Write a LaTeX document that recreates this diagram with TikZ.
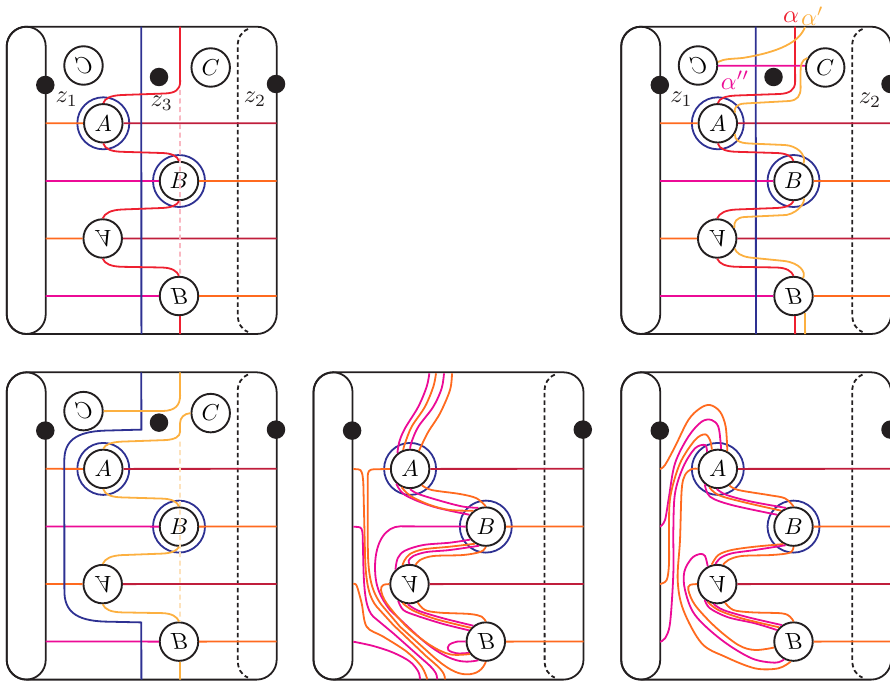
\documentclass[tikz,border=0pt]{standalone}
\definecolor{cOr}{HTML}{FF6A1F}
\definecolor{cMg}{HTML}{EC0B96}
\definecolor{cRd}{HTML}{EE2030}
\definecolor{cYe}{HTML}{FCB040}
\definecolor{cBl}{HTML}{2E3192}
\definecolor{cDr}{HTML}{C01E3C}
\definecolor{cKk}{HTML}{231F20}
\definecolor{cPk}{HTML}{F9B8C2}
\definecolor{cLy}{HTML}{FDE2BC}
\tikzset{
  fr/.style={draw=cKk,line width=1.8pt},
  circ/.style={circle,draw=cKk,line width=1.9pt,minimum size=38.5pt,inner sep=0pt},
  ring/.style={circle,draw=cBl,line width=1.8pt,minimum size=52pt,inner sep=0pt},
  dotn/.style={circle,fill=cKk,minimum size=18.5pt,inner sep=0pt},
  lab/.style={inner sep=0pt,text=cKk},
  ol/.style={cOr,line width=1.8pt},
  ml/.style={cMg,line width=1.8pt},
  rl/.style={cRd,line width=1.8pt},
  yl/.style={cYe,line width=1.8pt},
  bl/.style={cBl,line width=1.8pt},
  dl/.style={cDr,line width=1.8pt},
  zone/.style={shift={(#1)},x=.33333pt,y=-.33333pt},
}
\newcommand\LT[1]{\scalebox{2.3}{$#1$}}
\newcommand\LF[1]{\scalebox{2.3}[-2.3]{$#1$}}
\newcommand\LM[1]{\scalebox{-2.3}[2.3]{$#1$}}
\newcommand\LB[1]{\scalebox{2.45}{$#1$}}
\newcommand\sm[2]{\draw[#1] plot[smooth,tension=.55] coordinates {#2};}
\newcommand\panelbase[1]{%
  \fill[cKk,even odd rule,rounded corners=20.9pt] (5.8,25.8) rectangle (277.6,334.9)
     [rounded corners=19.1pt] (7.6,27.6) rectangle (275.8,333.1);
  \fill[cKk,even odd rule,rounded corners=20.4pt] (5.8,25.8) rectangle (46.6,334.9)
     [rounded corners=18.6pt] (7.6,27.6) rectangle (44.8,333.1);
  \draw[fr,dash pattern=on 4.5pt off 3pt] (248,29) .. controls (241,32) and (237.7,38) .. (237.7,46) -- (237.8,315) .. controls (237.8,323) and (241,329) .. (248,332);
  \node[dotn] (#1dl) at (45.3,85) {};
  \node[dotn] (#1dr) at (276,84) {};
  \node[circ] (#1A) at (103.3,123.3) {\LT{A}};
  \node[circ] (#1B) at (179,181) {\LT{B}};
  \node[circ] (#1a) at (102.7,238.5) {\LF{A}};
  \node[circ] (#1b) at (179,296) {\LF{B}};
  \node[ring] (#1RA) at (103.3,123.3) {};
  \node[ring] (#1RB) at (179,181) {};
  \draw[dl] (#1A.east) -- (276.7,123.2);
  \draw[ol] (#1B.east) -- (276.7,180.9);
  \draw[dl] (#1a.east) -- (276.7,238.4);
  \draw[ol] (#1b.east) -- (276.7,295.9);
}
\newcommand\leftlines[1]{%
  \node[dotn] (#1dm) at (159,77) {};
  \node[circ] (#1Cm) at (83.5,65.5) {\LM{C}};
  \node[circ] (#1C) at (210.7,67.5) {\LT{C}};
  \draw[ol] (45.7,123.2) -- (#1A.west);
  \draw[ml] (45.7,180.9) -- (#1B.west);
  \draw[ol] (45.7,238.4) -- (#1a.west);
  \draw[ml] (45.7,295.9) -- (#1b.west);
}
\newcommand\zigzag[2]{%
  \draw[#1] (#2A.south) .. controls (105,149) and (111,151.5) .. (122,151.8) -- (162,153) .. controls (172,153.3) and (177,156) .. (#2B.north);
  \draw[#1] (#2B.south) .. controls (177,205) and (172,207.6) .. (162,208) -- (122,209.5) .. controls (111,210) and (105,213) .. (#2a.north);
  \draw[#1] (#2a.south) .. controls (105,264) and (111,266.5) .. (122,266.8) -- (162,267.5) .. controls (172,267.8) and (177,271) .. (#2b.north);
}
\begin{document}
\begin{tikzpicture}[x=1pt,y=-1pt]
\useasboundingbox (0,0) rectangle (890,682);
% ---------- panel 1
\begin{scope}[shift={(0,0)}]
  \panelbase{p}
  \leftlines{p}
  \draw[bl] (141.3,26.7) -- (141.4,334);
  \draw[cPk,line width=1.8pt,dash pattern=on 5pt off 3.5pt] (180,90) -- (180.1,276);
  \draw[rl] (180,26.7) -- (180.1,82) .. controls (180,90) and (175,93) .. (165,93.5) -- (122,95) .. controls (111,95.5) and (105,98) .. (pA.north);
  \zigzag{rl}{p}
  \draw[rl] (180,0 |- pb.south) -- (180.1,334);
  \node[lab] (z1p) at (66.7,99) {\LB{z_1}};
  \node[lab] (z3p) at (161.7,103) {\LB{z_3}};
  \node[lab] (z2p) at (255,99) {\LB{z_2}};
\end{scope}
% ---------- panel 2
\begin{scope}[shift={(614.5,0)}]
  \panelbase{q}
  \leftlines{q}
  \draw[bl] (141.3,26.7) -- (141.4,334);
  \draw[rl] (180.5,26.7) -- (180.6,82) .. controls (180.5,90) and (175,93.5) .. (165,94) -- (122,95.5) .. controls (111,96) and (105,98) .. (qA.north);
  \zigzag{rl}{q}
  \draw[rl] (180.5,0 |- qb.south) -- (180.6,334);
  \draw[ml] (qCm.east |- 0,65.7) -- (qC.west |- 0,65.8);
  \draw[yl] (190.5,27) .. controls (185,42) and (165,52) .. (128,58) .. controls (118,59) and (110,58.5) .. (qCm.10);
  \draw[yl] (qC.152) .. controls (187,60) and (186,65) .. (186,72) -- (186.1,88) .. controls (186,96) and (183,100) .. (175,101) -- (130,103.5) .. controls (122,104) and (119,108) .. (qA.32);
  \draw[yl] (qA.-32) .. controls (120,140) and (124,143) .. (135,143.5) -- (170,145) .. controls (182,145.5) and (192,154) .. (qB.60);
  \draw[yl] (qB.-60) .. controls (191,200) and (186,212) .. (172,215) -- (130,217) .. controls (122,217.5) and (119,222) .. (qa.32);
  \draw[yl] (qa.-30) .. controls (122,253) and (126,256) .. (135,257.5) -- (170,261) .. controls (185,263) and (192,272) .. (qb.62);
  \draw[yl] (190.5,313) -- (190.6,334);
  \node[lab] (z1q) at (67,99) {\LB{z_1}};
  \node[lab] (z2q) at (255.5,100) {\LB{z_2}};
  \node[lab,text=cRd] (al) at (176.5,17) {\LB{\alpha}};
  \node[lab,text=cYe] (alp) at (198,16) {\LB{\alpha'}};
  \node[lab,text=cMg] (alpp) at (120.5,80) {\LB{\alpha''}};
\end{scope}
% ---------- panel 3
\begin{scope}[shift={(0,345.6)}]
  \panelbase{r}
  \leftlines{r}
  \draw[bl] (141.3,26.7) -- (141.4,84) -- (105,85) .. controls (75,86) and (64.3,96) .. (64.3,115) -- (64.4,245) .. controls (64.3,265) and (75,275) .. (105,276) -- (141.3,276.8) -- (141.4,334);
  \draw[cLy,line width=1.8pt,dash pattern=on 5pt off 3.5pt] (180,96) -- (180.1,276);
  \draw[yl] (180,26.7) -- (180.1,50) .. controls (180,60) and (175,65) .. (163,65.4) -- (rCm.east |- 0,65.5);
  \draw[yl] (rC.west) .. controls (184,68) and (180,72) .. (180,78) -- (180.1,86) .. controls (180,91) and (175,94) .. (165,94.5) -- (122,96) .. controls (111,96.5) and (105,99) .. (rA.north);
  \zigzag{yl}{r}
  \draw[yl] (180,0 |- rb.south) -- (180.1,334);
\end{scope}
% ---------- panel 4
\begin{scope}[shift={(306.8,345.6)}]
  \panelbase{s}
\end{scope}
\begin{scope}[zone={350,520}]
  \sm{ml}{(238,-440)(230,-400)(205,-340)(165,-275)(148,-235)(sA.129)}
  \sm{ol}{(258,-440)(250,-400)(225,-340)(185,-280)(165,-230)(sA.110)}
  \sm{ml}{(282,-440)(275,-395)(250,-340)(205,-280)(185,-235)(sA.90)}
  \sm{ol}{(306,-440)(300,-390)(270,-320)(235,-265)(215,-225)(sA.64)}
  \sm{ml}{(sA.-133)(165,-75)(250,-40)(sB.144)}
  \sm{ol}{(sA.-115)(182,-72)(240,-45)(300,-30)(sB.128)}
  \sm{ml}{(sA.-90)(205,-78)(280,-55)(340,-40)(sB.112)}
  \sm{ol}{(sA.-54)(245,-90)(330,-78)(380,-65)(sB.90)}
  \sm{ml}{(sB.-140)(300,68)(220,75)(165,92)(143,115)(sa.134)}
  \sm{ol}{(sB.-122)(300,80)(220,88)(180,102)(163,122)(sa.110)}
  \sm{ml}{(sB.-109)(300,90)(230,96)(190,108)(176,122)(sa.90)}
  \sm{ol}{(sB.-90)(393,95)(340,105)(250,108)(210,120)(sa.72)}
  \sm{ml}{(sa.-124)(160,270)(200,287)(280,312)(sb.146)}
  \sm{ol}{(sa.-110)(190,272)(260,298)(sb.137)}
  \sm{ml}{(sa.-95)(205,272)(280,295)(sb.128)}
  \sm{ol}{(sa.-66)(225,270)(270,278)(360,282)(395,290)(sb.90)}
  \sm{ml}{(sb.180)(320,365)(297,375)(295,390)(320,400)(sb.-146)}
  \sm{ml}{(10,365)(70,378)(130,398)(180,425)(205,455)(210,478)}
  \sm{ol}{(10,192)(20,197)(35,250)(50,320)(100,350)(170,395)(215,440)(232,478)}
  \draw[ml] (10,20) -- (25,21) .. controls (35,21) and (37,30) .. (38,45) -- (40,130) .. controls (42,230) and (50,270) .. (70,290) -- (130,340) -- (220,420) .. controls (250,445) and (262,460) .. (262,478);
  \draw[ol] (10,-153) -- (25,-152) .. controls (35,-152) and (38,-140) .. (40,-110) -- (45,100) .. controls (47,200) and (60,235) .. (80,260) -- (130,315) -- (230,410) .. controls (265,440) and (285,455) .. (285,478);
  \draw[ol] (sA.180) -- (70,-152) .. controls (58,-152) and (53,-145) .. (53,-130) -- (53.5,70) .. controls (53,170) and (65,215) .. (95,255) -- (150,320) -- (250,410) .. controls (290,445) and (320,463) .. (350,463) .. controls (380,463) and (398,450) .. (sb.-90);
  \draw[ml] (sB.180) -- (150,19) .. controls (110,20) and (76,60) .. (75,140) .. controls (75,200) and (90,230) .. (120,270) -- (200,345) .. controls (260,400) and (310,425) .. (350,425) .. controls (365,425) and (378,422) .. (sb.-112);
  \sm{ol}{(sa.180)(100,195)(93,210)(110,250)(170,320)(240,375)(300,403)(sb.-142)}
\end{scope}
% ---------- panel 5
\begin{scope}[shift={(614.5,345.6)}]
  \panelbase{t}
\end{scope}
\begin{scope}[zone={655,530}]
  \sm{ol}{(15,-183)(30,-195)(60,-250)(100,-330)(135,-365)(165,-375)(195,-355)(212,-310)(tA.62)}
  \sm{ml}{(15,-10)(30,-30)(42,-100)(60,-200)(100,-280)(140,-325)(170,-330)(190,-310)(197,-260)(tA.81)}
  \sm{ol}{(15,162)(35,150)(42,100)(42,0)(46,-100)(75,-200)(120,-270)(150,-287)(165,-270)(tA.107)}
  \sm{ml}{(15,335)(30,325)(45,280)(55,130)(55,0)(60,-110)(85,-190)(120,-245)(150,-255)(tA.122)}
  \sm{ol}{(tA.180)(110,-183)(90,-165)(80,-120)(75,30)(68,150)(85,240)(140,340)(210,380)(300,415)(370,415)(tb.-98)}
  \sm{ml}{(tA.-130)(165,-100)(230,-75)(tB.144)}
  \sm{ol}{(tA.-115)(190,-105)(260,-85)(tB.128)}
  \sm{ml}{(tA.-93)(215,-105)(290,-85)(tB.112)}
  \sm{ol}{(tA.-55)(250,-120)(340,-105)(390,-95)(tB.90)}
  \sm{ol}{(tB.-120)(300,50)(230,60)(190,75)(ta.106)}
  \sm{ml}{(tB.-113)(300,60)(230,70)(195,85)(ta.95)}
  \sm{ol}{(tB.-90)(405,68)(350,75)(260,78)(220,90)(ta.73)}
  \sm{ml}{(ta.118)(150,78)(135,72)(110,85)(88,125)(90,180)(120,255)(200,330)(290,385)(360,398)(tb.-118)}
  \sm{ml}{(ta.-128)(165,235)(220,262)(300,280)(tb.145)}
  \sm{ol}{(ta.-118)(190,240)(260,265)(tb.135)}
  \sm{ml}{(ta.-100)(205,240)(280,262)(tb.125)}
  \sm{ol}{(ta.-67)(235,240)(290,247)(380,250)(405,260)(tb.90)}
  \sm{ol}{(ta.180)(105,165)(100,180)(120,225)(180,290)(250,345)(300,360)(tb.-163)}
\end{scope}
\end{tikzpicture}
\end{document}
